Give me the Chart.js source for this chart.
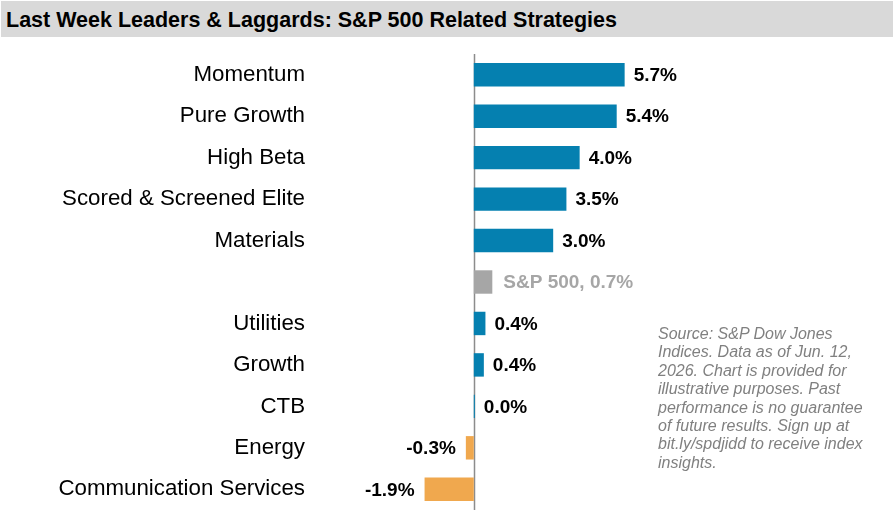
<!DOCTYPE html>
<html>
<head>
<meta charset="utf-8">
<script src="https://cdn.jsdelivr.net/npm/chart.js@4"></script>
<style>
  html, body { margin: 0; padding: 0; background: #fff; }
  #wrap { position: relative; width: 894px; height: 519px; overflow: hidden; font-family: "Liberation Sans", Arial, sans-serif; }
  #chart { position: absolute; left: 0; top: 0; }
  #title { position: absolute; left: 1px; top: 1px; width: 892px; height: 36px; background: #d9d9d9;
           font-weight: bold; font-size: 21.5px; line-height: 38px; color: #000; padding-left: 5px; box-sizing: border-box; white-space: nowrap; }
  #source { position: absolute; left: 658px; top: 325px; width: 230px; font-style: italic; font-size: 16px; line-height: 18.4px; color: #808080; }
</style>
</head>
<body>
<div id="wrap">
  <canvas id="chart" width="894" height="519"></canvas>
  <div id="title">Last Week Leaders &amp; Laggards: S&amp;P 500 Related Strategies</div>
  <div id="source">Source: S&amp;P Dow Jones<br>Indices. Data as of Jun. 12,<br>2026. Chart is provided for<br>illustrative purposes. Past<br>performance is no guarantee<br>of future results. Sign up at<br>bit.ly/spdjidd to receive index<br>insights.</div>
</div>
<script>
const categories = ['Momentum', 'Pure Growth', 'High Beta', 'Scored & Screened Elite', 'Materials', 'S&P 500',
                    'Utilities', 'Growth', 'CTB', 'Energy', 'Communication Services'];
const weeklyReturns = [5.7, 5.4, 4.0, 3.5, 3.0, 0.7, 0.44, 0.38, 0.04, -0.3, -1.86];
const benchmarkName = 'S&P 500';

const BLUE = '#0580b0', ORANGE = '#f0a84e', GREY = '#a6a6a6';
const barColors = categories.map((c, i) => c === benchmarkName ? GREY : (weeklyReturns[i] < 0 ? ORANGE : BLUE));

const labelPlugin = {
  id: 'valueLabels',
  afterDatasetsDraw(chart) {
    const ctx = chart.ctx;
    const meta = chart.getDatasetMeta(0);
    ctx.save();
    ctx.font = 'bold 19px "Liberation Sans", Arial, sans-serif';
    ctx.textBaseline = 'middle';
    meta.data.forEach((bar, i) => {
      const v = weeklyReturns[i];
      let txt = v.toFixed(1) + '%';
      const isBench = categories[i] === benchmarkName;
      if (isBench) { txt = benchmarkName + ', ' + txt; ctx.fillStyle = GREY; } else { ctx.fillStyle = '#000'; }
      if (v >= 0) {
        ctx.textAlign = 'left';
        ctx.fillText(txt, bar.x + (isBench ? 11 : 9), bar.y + 1);
      } else {
        ctx.textAlign = 'right';
        ctx.fillText(txt, bar.x - 10, bar.y + 1);
      }
    });
    ctx.restore();
  }
};

const zeroLinePlugin = {
  id: 'zeroLine',
  beforeDatasetsDraw(chart) {
    const { ctx, chartArea, scales } = chart;
    const x = Math.round(scales.x.getPixelForValue(0)) + 0.5;
    ctx.save();
    ctx.strokeStyle = '#8c8c8c';
    ctx.lineWidth = 1.5;
    ctx.beginPath();
    ctx.moveTo(x, chartArea.top);
    ctx.lineTo(x, chartArea.bottom);
    ctx.stroke();
    ctx.restore();
  }
};

new Chart(document.getElementById('chart'), {
  type: 'bar',
  data: {
    labels: categories,
    datasets: [{
      data: weeklyReturns,
      backgroundColor: barColors,
      borderWidth: 0,
      barPercentage: 0.565,
      categoryPercentage: 1.0
    }]
  },
  options: {
    indexAxis: 'y',
    responsive: false,
    animation: false,
    devicePixelRatio: 1,
    layout: { padding: { top: 54, bottom: 9, left: 0, right: 10 } },
    plugins: { legend: { display: false }, tooltip: { enabled: false }, title: { display: false } },
    scales: {
      x: { display: false, min: -6, max: 15.5 },
      y: {
        grid: { display: false, drawTicks: false },
        border: { display: false },
        afterFit(scale) { scale.width = 315; scale.paddingTop = 0; scale.paddingBottom = 0; },
        ticks: {
          padding: 10,
          color: '#000',
          font: { family: '"Liberation Sans", Arial, sans-serif', size: 22.3 },
          callback(value, index) { const c = categories[index]; return c === benchmarkName ? '' : c; }
        }
      }
    }
  },
  plugins: [zeroLinePlugin, labelPlugin]
});
</script>
</body>
</html>
